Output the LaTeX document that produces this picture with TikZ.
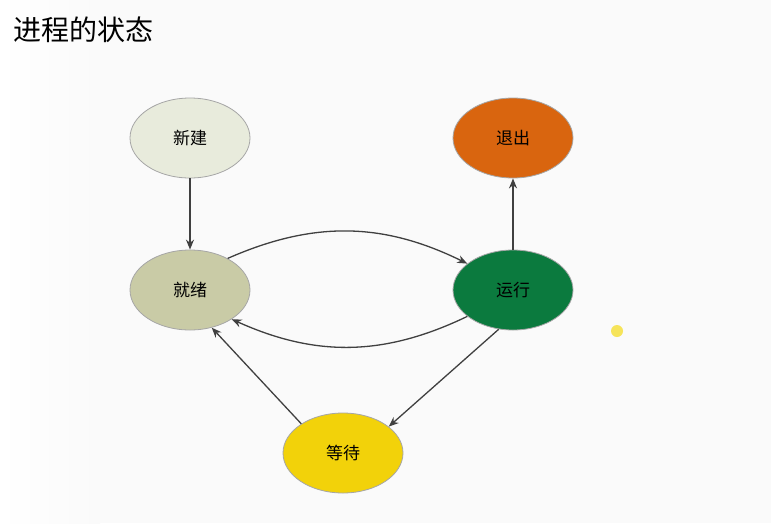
\documentclass[tikz,border=0pt]{standalone}
\usepackage{fontspec}
\setmainfont{Noto Sans CJK SC}
\usetikzlibrary{shapes.geometric,arrows.meta}
\definecolor{cnew}{RGB}{232,235,220}
\definecolor{cready}{RGB}{201,203,166}
\definecolor{cexit}{RGB}{217,101,15}
\definecolor{crun}{RGB}{11,122,62}
\definecolor{cwait}{RGB}{242,210,10}
\definecolor{cdot}{RGB}{246,228,90}
\begin{document}
\begin{tikzpicture}[x=1pt,y=-1pt,
  st/.style={ellipse,draw=gray!70,line width=0.8pt,minimum width=120pt,minimum height=80pt,font=\fontsize{17}{20}\selectfont},
  conn/.style={draw=black!75,line width=1.3pt,-{Stealth[length=10pt,width=8pt]}}]
\useasboundingbox[fill=black!2] (0,0) rectangle (771,523);
\shade[left color=white,right color=black!2] (0,0) rectangle (100,523);
\node[anchor=west,font=\fontsize{28}{32}\selectfont] (title) at (10,30) {进程的状态};
\node[st,fill=cnew] (new) at (190,138) {新建};
\node[st,fill=cready] (ready) at (190,290) {就绪};
\node[st,fill=cexit] (exit) at (513,138) {退出};
\node[st,fill=crun] (run) at (513,290) {运行};
\node[st,fill=cwait] (wait) at (343,453) {等待};
\fill[cdot] (617,331) circle (6);
\draw[conn] (new) -- (ready);
\draw[conn] (run) -- (exit);
\draw[conn] (ready.40) to[bend left=25] (run.150);
\draw[conn] (run.210) to[bend left=25] (ready.325);
\draw[conn] (run.250) -- (wait.30);
\draw[conn] (wait.145) -- (ready.300);
\end{tikzpicture}
\end{document}
